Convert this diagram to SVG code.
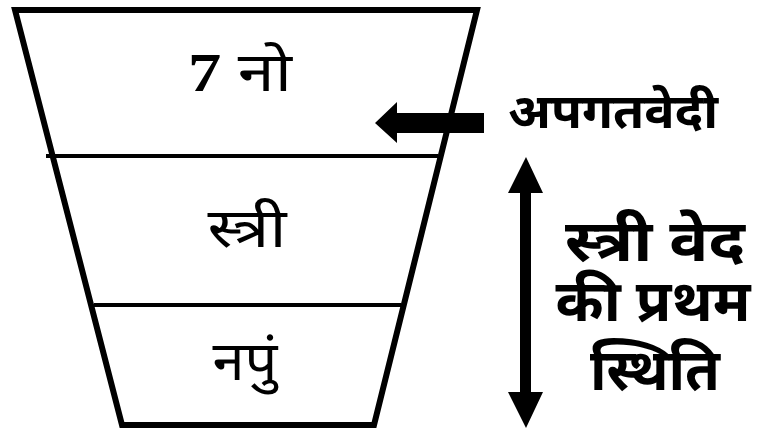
<svg xmlns="http://www.w3.org/2000/svg" width="760" height="436" viewBox="0 0 760 436">
<style>
.t{font-family:"Noto Sans","DejaVu Sans",sans-serif;fill:#000;text-anchor:middle}
.s{font-family:"Liberation Serif","Noto Sans",serif;fill:#000;text-anchor:middle}
.b{font-weight:bold}
.ln{stroke:#000;fill:none}
</style>
<rect width="760" height="436" fill="#fff"/>
<g id="funnel">
<polygon class="ln" points="15,10 477,10 374,425 122,425" stroke-width="6" stroke-linejoin="miter"/>
<line class="ln" x1="46" y1="156" x2="438" y2="156" stroke-width="4"/>
<line class="ln" x1="94" y1="305" x2="401" y2="305" stroke-width="4"/>
</g>
<g id="n1"><text class="s" x="240" y="91" font-size="54" textLength="104" lengthAdjust="spacingAndGlyphs"><tspan font-weight="bold">7</tspan> <tspan font-family="Noto Sans, sans-serif">नो</tspan></text></g>
<g id="n2"><text class="t" x="247" y="247" font-size="54" textLength="79" lengthAdjust="spacingAndGlyphs">स्त्री</text></g>
<g id="n3"><text class="t" x="245" y="380" font-size="54" textLength="65" lengthAdjust="spacingAndGlyphs">नपुं</text></g>
<g id="connectors">
<polygon points="375,123 397,102 397,113 484,113 484,133 397,133 397,143" fill="#000"/>
<polygon points="526,157 543,193 531,193 531,392 543,392 526,428 508,392 520,392 520,193 508,193" fill="#000"/>
</g>
<g id="labels">
<text class="t b" x="613" y="128" font-size="48" textLength="210" lengthAdjust="spacingAndGlyphs">अपगतवेदी</text>
<text class="t b" x="655" y="261" font-size="57" textLength="180" lengthAdjust="spacingAndGlyphs">स्त्री वेद</text>
<text class="t b" x="653" y="321" font-size="57" textLength="195" lengthAdjust="spacingAndGlyphs">की प्रथम</text>
<text class="t b" x="655" y="390" font-size="57" textLength="130" lengthAdjust="spacingAndGlyphs">स्थिति</text>
</g>
</svg>
